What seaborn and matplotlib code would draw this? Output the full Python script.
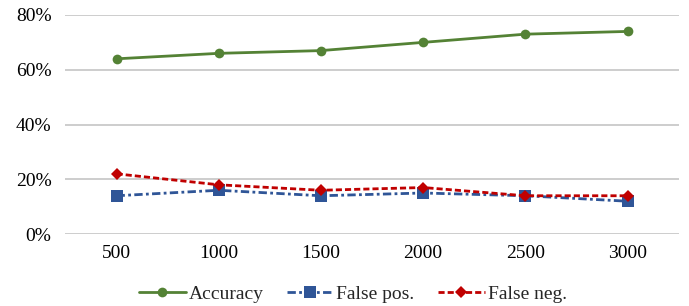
import pandas as pd
import matplotlib.pyplot as plt
import seaborn as sns
from matplotlib.ticker import PercentFormatter

# values
sizes = ["500", "1000", "1500", "2000", "2500", "3000"]
accuracy = [0.64, 0.66, 0.67, 0.70, 0.73, 0.74]
false_pos = [0.14, 0.16, 0.14, 0.15, 0.14, 0.12]
false_neg = [0.22, 0.18, 0.16, 0.17, 0.14, 0.14]

df = pd.DataFrame({"Size": sizes * 3,
                   "Value": accuracy + false_pos + false_neg,
                   "Metric": ["Accuracy"] * 6 + ["False pos."] * 6 + ["False neg."] * 6})

sns.set_style("white")
plt.rcParams["font.family"] = ["Liberation Serif", "DejaVu Serif"]

fig, ax = plt.subplots(figsize=(6.89, 3.06), dpi=100)

palette = {"Accuracy": "#548235", "False pos.": "#2F5597", "False neg.": "#C00000"}
markers = {"Accuracy": "o", "False pos.": "s", "False neg.": "D"}
dashes = {"Accuracy": "", "False pos.": (3, 1.2, 1, 1.2), "False neg.": (2.2, 1.1)}

sns.lineplot(data=df, x="Size", y="Value", hue="Metric", style="Metric",
             palette=palette, markers=markers, dashes=dashes, ax=ax,
             linewidth=2, markersize=7, markeredgewidth=0, sort=False)

# marker sizes differ per series in the original
sz = {"o": 7, "s": 8, "D": 6.5}
for line in ax.lines:
    if line.get_marker() in sz:
        line.set_markersize(sz[line.get_marker()])

ax.set_ylim(0, 0.8)
ax.set_xlim(-0.5, 5.5)
ax.yaxis.set_major_locator(plt.MultipleLocator(0.2))
ax.yaxis.set_major_formatter(PercentFormatter(1.0, decimals=0))
ax.grid(axis="y", color="#C9C9C9", linewidth=1.3)
ax.set_axisbelow(True)
for s in ax.spines.values():
    s.set_visible(False)
ax.tick_params(axis="both", length=0, labelsize=14, colors="black")
ax.tick_params(axis="x", pad=8)
ax.tick_params(axis="y", pad=10)
ax.set_xlabel("")
ax.set_ylabel("")

leg = ax.legend(loc="center", bbox_to_anchor=(0.512, 0.04), bbox_transform=fig.transFigure,
                ncol=3, frameon=False, fontsize=14, handlelength=2.4,
                columnspacing=1.2, handletextpad=0.15, borderpad=0)
for h in leg.legend_handles:
    if h.get_marker() in sz:
        h.set_markersize(sz[h.get_marker()])

fig.subplots_adjust(left=0.095, right=0.985, top=0.951, bottom=0.235)
fig.savefig("out.png", dpi=100)
